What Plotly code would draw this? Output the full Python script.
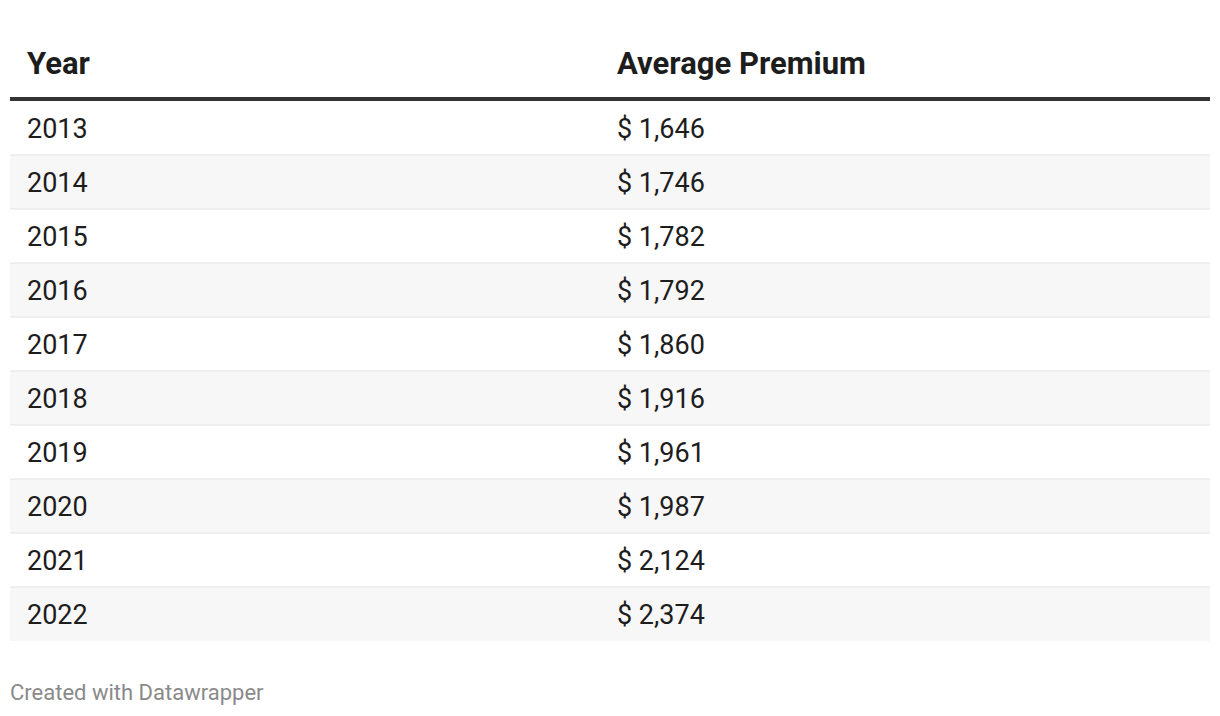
import plotly.graph_objects as go

# ---- data ----
years = [2013, 2014, 2015, 2016, 2017, 2018, 2019, 2020, 2021, 2022]
premiums = [1646, 1746, 1782, 1792, 1860, 1916, 1961, 1987, 2124, 2374]
headers = ["Year", "Average Premium"]
footer = "Created with Datawrapper"

W, H = 1220, 716
OFF = 8            # page body margin compensation
ROW_H = 54
FIRST_CENTER = 128 - OFF
TEXT_DY = 3 / ROW_H
n = len(years)
idx = list(range(n))

# y axis in row units: pixel = FIRST_CENTER + ROW_H * i
y_top = -FIRST_CENTER / ROW_H
y_bot = (H - FIRST_CENTER) / ROW_H

TABLE_L, TABLE_R = 10 - OFF, 1210 - OFF
COL1_X, COL2_X = 27 - OFF, 617 - OFF
FONT = "Roboto, 'Open Sans', sans-serif"
TXT = "#1d1d1d"

fig = go.Figure()

# zebra row backgrounds
fig.add_trace(go.Bar(
    orientation="h",
    y=idx,
    x=[TABLE_R - TABLE_L] * n,
    base=TABLE_L,
    width=1,
    marker=dict(color=["#ffffff" if i % 2 == 0 else "#f7f7f7" for i in idx], line=dict(width=0)),
    hoverinfo="skip",
    showlegend=False,
))

# cell text
fig.add_trace(go.Scatter(
    x=[COL1_X] * n, y=[i + TEXT_DY for i in idx], mode="text",
    text=[str(y) for y in years], textposition="middle right",
    textfont=dict(family=FONT, size=27, color=TXT),
    hoverinfo="skip", showlegend=False,
))
fig.add_trace(go.Scatter(
    x=[COL2_X] * n, y=[i + TEXT_DY for i in idx], mode="text",
    text=["$ {:,}".format(p) for p in premiums], textposition="middle right",
    textfont=dict(family=FONT, size=27, color=TXT),
    hoverinfo="skip", showlegend=False,
))

# header text
hdr_y = (63 - OFF - FIRST_CENTER) / ROW_H + TEXT_DY
fig.add_trace(go.Scatter(
    x=[COL1_X, COL2_X], y=[hdr_y, hdr_y], mode="text",
    text=["<b>%s</b>" % h for h in headers], textposition="middle right",
    textfont=dict(family=FONT, size=31, color=TXT),
    hoverinfo="skip", showlegend=False,
))

shapes = []
# thick header rule
shapes.append(dict(type="line", xref="x", yref="y", x0=TABLE_L, x1=TABLE_R,
                   y0=-0.5 - 2 / ROW_H, y1=-0.5 - 2 / ROW_H,
                   line=dict(color="#333333", width=4)))
# thin row separators
for i in idx[1:]:
    shapes.append(dict(type="line", xref="x", yref="y", x0=TABLE_L, x1=TABLE_R,
                       y0=i - 0.5, y1=i - 0.5, line=dict(color="#e3e3e3", width=1)))

fig.update_layout(
    width=W, height=H,
    margin=dict(l=0, r=0, t=0, b=0),
    paper_bgcolor="white", plot_bgcolor="white",
    shapes=shapes,
    xaxis=dict(range=[0, W], visible=False, fixedrange=True),
    yaxis=dict(range=[y_bot, y_top], visible=False, fixedrange=True),
    bargap=0,
    annotations=[dict(text=footer, xref="paper", yref="paper", x=(TABLE_L - 2) / W, y=1 - (692 - OFF) / H,
                      xanchor="left", yanchor="middle", showarrow=False,
                      font=dict(family=FONT, size=22, color="#8a8a8a"))],
)

fig.write_html("out.html", config={"displayModeBar": False})
